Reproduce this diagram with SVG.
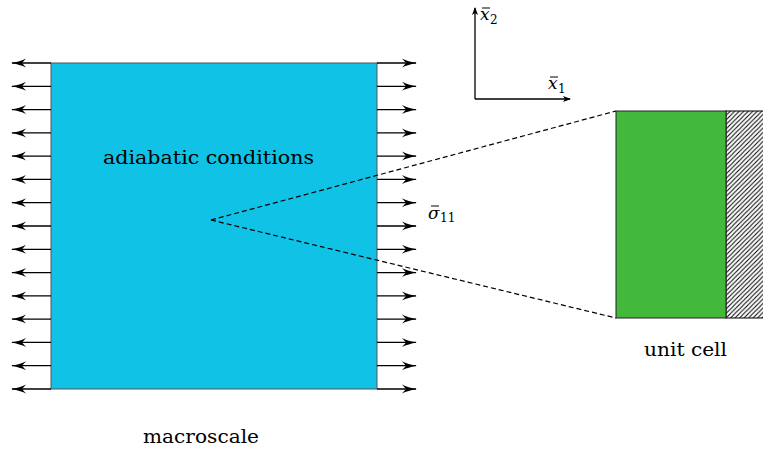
<svg xmlns="http://www.w3.org/2000/svg" width="763" height="451" viewBox="0 0 763 451">
<style>
text{font-family:"DejaVu Serif",serif;fill:#000}
.lbl{font-size:19px}
.math{font-style:italic;font-size:17px}
.sub{font-size:12px}
.ar{stroke:#000;stroke-width:1.3;fill:none}
.bar{stroke:#000;stroke-width:1;fill:none}
.dash{stroke:#000;stroke-width:1.2;stroke-dasharray:5,3;fill:none}
</style>
<defs>
<marker id="st" viewBox="0 0 15 10" refX="14" refY="5" markerWidth="15" markerHeight="10" markerUnits="userSpaceOnUse" orient="auto">
<path d="M0,0.5 Q6,3.5 15,5 Q6,6.5 0,9.5 L4,5 Z" fill="#000"/>
</marker>
<marker id="ax" viewBox="0 0 8 6" refX="7" refY="3" markerWidth="8" markerHeight="6" markerUnits="userSpaceOnUse" orient="auto">
<path d="M0,0 L8,3 L0,6 L2,3 Z" fill="#000"/>
</marker>
<pattern id="hatch" patternUnits="userSpaceOnUse" width="4.5" height="4.5">
<path d="M-1,1 L1,-1 M0,4.5 L4.5,0 M3.5,5.5 L5.5,3.5" stroke="#000" stroke-width="1"/>
</pattern>
</defs>
<g id="macroscale">
<rect x="51" y="63" width="326" height="326" fill="#0fc2e6" stroke="#555" stroke-width="1"/>
<text class="lbl" x="103" y="164" textLength="211" lengthAdjust="spacingAndGlyphs">adiabatic conditions</text>
<text class="lbl" x="143" y="443" textLength="116" lengthAdjust="spacingAndGlyphs">macroscale</text>
</g>
<g id="loads">
<g class="ar" marker-end="url(#st)">
<line x1="51" y1="63" x2="12" y2="63"/><line x1="51" y1="86.3" x2="12" y2="86.3"/><line x1="51" y1="109.6" x2="12" y2="109.6"/><line x1="51" y1="132.9" x2="12" y2="132.9"/><line x1="51" y1="156.1" x2="12" y2="156.1"/><line x1="51" y1="179.4" x2="12" y2="179.4"/><line x1="51" y1="202.7" x2="12" y2="202.7"/><line x1="51" y1="226" x2="12" y2="226"/><line x1="51" y1="249.3" x2="12" y2="249.3"/><line x1="51" y1="272.6" x2="12" y2="272.6"/><line x1="51" y1="295.9" x2="12" y2="295.9"/><line x1="51" y1="319.1" x2="12" y2="319.1"/><line x1="51" y1="342.4" x2="12" y2="342.4"/><line x1="51" y1="365.7" x2="12" y2="365.7"/><line x1="51" y1="389" x2="12" y2="389"/>
<line x1="377" y1="63" x2="416" y2="63"/><line x1="377" y1="86.3" x2="416" y2="86.3"/><line x1="377" y1="109.6" x2="416" y2="109.6"/><line x1="377" y1="132.9" x2="416" y2="132.9"/><line x1="377" y1="156.1" x2="416" y2="156.1"/><line x1="377" y1="179.4" x2="416" y2="179.4"/><line x1="377" y1="202.7" x2="416" y2="202.7"/><line x1="377" y1="226" x2="416" y2="226"/><line x1="377" y1="249.3" x2="416" y2="249.3"/><line x1="377" y1="272.6" x2="416" y2="272.6"/><line x1="377" y1="295.9" x2="416" y2="295.9"/><line x1="377" y1="319.1" x2="416" y2="319.1"/><line x1="377" y1="342.4" x2="416" y2="342.4"/><line x1="377" y1="365.7" x2="416" y2="365.7"/><line x1="377" y1="389" x2="416" y2="389"/>
</g>
<text class="math" x="428" y="219">σ</text><text class="sub" x="440" y="222">11</text>
<line class="bar" x1="431" y1="206" x2="439" y2="206"/>
</g>
<g id="axes">
<g class="ar" marker-end="url(#ax)">
<line x1="475" y1="99" x2="475" y2="8"/>
<line x1="475" y1="99" x2="570" y2="99"/>
</g>
<text class="math" x="480" y="20">x</text><text class="sub" x="490" y="24">2</text>
<line class="bar" x1="482" y1="8" x2="490" y2="8"/>
<text class="math" x="548" y="89">x</text><text class="sub" x="558" y="93">1</text>
<line class="bar" x1="550" y1="77" x2="558" y2="77"/>
</g>
<g id="unit-cell">
<rect x="726" y="111" width="40" height="207" fill="url(#hatch)" stroke="#000" stroke-width="1"/>
<rect x="616" y="111" width="110" height="207" fill="#43b93c" stroke="#222" stroke-width="1"/>
<text class="lbl" x="644" y="356" textLength="83" lengthAdjust="spacingAndGlyphs">unit cell</text>
</g>
<g id="connectors">
<line class="dash" x1="211" y1="220" x2="616" y2="111"/>
<line class="dash" x1="211" y1="220" x2="616" y2="318"/>
</g>
</svg>
